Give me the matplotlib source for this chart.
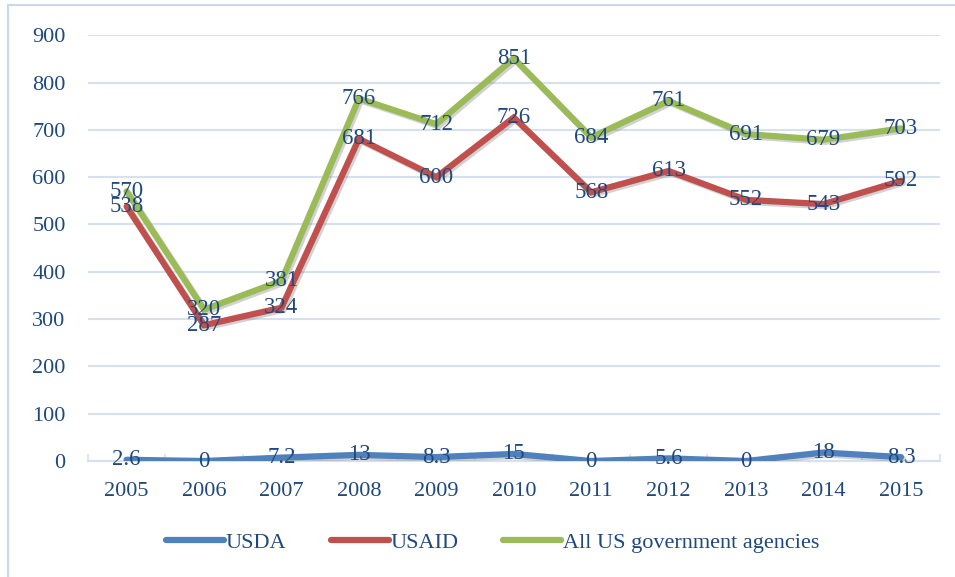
import matplotlib
matplotlib.use('Agg')
import matplotlib.pyplot as plt
import matplotlib.patheffects as pe
from matplotlib.patches import Rectangle

# data
years = ['2005', '2006', '2007', '2008', '2009', '2010',
         '2011', '2012', '2013', '2014', '2015']
usda = [2.6, 0, 7.2, 13, 8.3, 15, 0, 5.6, 0, 18, 8.3]
usaid = [538, 287, 324, 681, 600, 726, 568, 613, 552, 543, 592]
all_us = [570, 320, 381, 766, 712, 851, 684, 761, 691, 679, 703]

txt_col = '#1F497D'
grid_col = '#D6E1F0'
plt.rcParams['font.family'] = ['Liberation Serif', 'DejaVu Serif']

fig = plt.figure(figsize=(9.55, 5.77), dpi=100)
ax = fig.add_axes([0.092, 0.201, 0.892, 0.738])

# outer frame of the chart
fig.patches.append(Rectangle((8 / 955, -0.05), 1.2, 1 - 5 / 577 + 0.05,
                             transform=fig.transFigure, fill=False,
                             edgecolor='#C9D8EE', linewidth=1.5))

xs = [i + 0.5 for i in range(len(years))]
shadow = [pe.SimpleLineShadow(offset=(1.5, -1.5), shadow_color='gray', alpha=0.35),
          pe.Normal()]

series = [('USDA', usda, '#4F81BD', '{:g}'),
          ('USAID', usaid, '#C0504D', '{:d}'),
          ('All US government agencies', all_us, '#9BBB59', '{:d}')]

for name, vals, col, fmt in series:
    ax.plot(xs, vals, color=col, linewidth=4.5, solid_capstyle='round',
            solid_joinstyle='miter', label=name, path_effects=shadow, zorder=3)

for name, vals, col, fmt in series:
    for x, v in zip(xs, vals):
        ax.text(x, v, fmt.format(v), ha='center', va='center',
                fontsize=16.5, color=txt_col, zorder=5)

ax.set_xlim(0, len(years))
ax.set_ylim(0, 900)
ax.set_yticks(range(0, 901, 100))
ax.set_xticks(xs)
ax.set_xticklabels(years)
ax.set_xticks(range(len(years) + 1), minor=True)
ax.tick_params(axis='x', which='major', length=0, pad=15, labelsize=16,
               labelcolor=txt_col)
ax.tick_params(axis='x', which='minor', length=5, width=1.2, color=grid_col,
               direction='in')
ax.tick_params(axis='y', length=0, pad=16, labelsize=16, labelcolor=txt_col)

ax.grid(axis='y', color=grid_col, linewidth=1.5)
ax.set_axisbelow(True)
for s in ['top', 'right', 'left']:
    ax.spines[s].set_visible(False)
ax.spines['bottom'].set_color(grid_col)
ax.spines['bottom'].set_linewidth(1.5)

leg = fig.legend(loc='center', bbox_to_anchor=(0.516, 0.059), ncol=3,
                 frameon=False, fontsize=16, handlelength=2.6,
                 handletextpad=0.1, columnspacing=2.0)
for t in leg.get_texts():
    t.set_color(txt_col)
for h in leg.get_lines():
    h.set_path_effects([])

fig.savefig('out.png', dpi=100)
